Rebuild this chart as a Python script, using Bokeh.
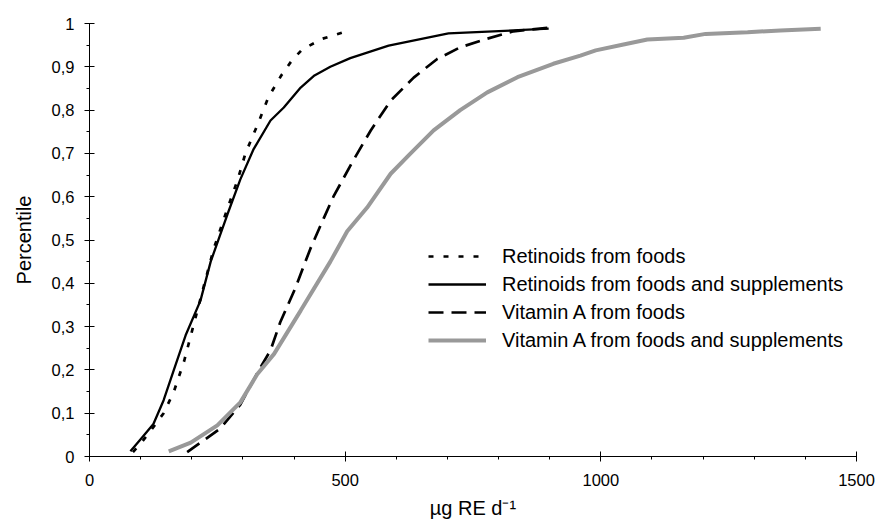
from bokeh.plotting import figure
from bokeh.models import (Range1d, Legend, LegendItem, FixedTicker,
                          CustomJSTickFormatter)
from bokeh.embed import file_html
from bokeh.resources import INLINE

# Cumulative distributions of intake (µg RE per day) vs percentile
ret_food_x = [85, 100, 120, 145, 165, 185, 205, 225, 243, 269, 290, 305, 330, 350, 375, 396, 416, 456, 497]
ret_food_y = [0.01, 0.03, 0.06, 0.10, 0.15, 0.22, 0.31, 0.40, 0.48, 0.57, 0.64, 0.70, 0.77, 0.83, 0.88, 0.915, 0.94, 0.965, 0.98]

ret_supp_x = [80, 100, 125, 145, 165, 188, 217, 237, 255, 270, 295, 321, 354, 380, 413, 440, 471, 510, 585, 702, 898]
ret_supp_y = [0.012, 0.04, 0.075, 0.13, 0.2, 0.28, 0.36, 0.45, 0.51, 0.56, 0.64, 0.71, 0.776, 0.806, 0.852, 0.88, 0.90, 0.92, 0.949, 0.977, 0.988]

vita_food_x = [191, 223, 256, 295, 334, 354, 373, 403, 419, 432, 458, 477, 514, 550, 589, 634, 680, 725, 778, 829, 898]
vita_food_y = [0.01, 0.037, 0.065, 0.12, 0.205, 0.245, 0.31, 0.39, 0.44, 0.48, 0.55, 0.60, 0.68, 0.753, 0.822, 0.875, 0.918, 0.945, 0.965, 0.982, 0.99]

vita_supp_x = [155, 198, 250, 295, 328, 361, 413, 471, 504, 543, 589, 628, 673, 725, 778, 837, 907, 960, 990, 1042, 1091, 1162, 1205, 1287, 1351, 1430]
vita_supp_y = [0.012, 0.032, 0.072, 0.125, 0.19, 0.237, 0.337, 0.45, 0.52, 0.575, 0.653, 0.70, 0.753, 0.80, 0.841, 0.876, 0.907, 0.926, 0.938, 0.951, 0.963, 0.967, 0.976, 0.98, 0.984, 0.988]

series_names = ["Retinoids from foods",
                "Retinoids from foods and supplements",
                "Vitamin A from foods",
                "Vitamin A from foods and supplements"]

x_ticks = [0, 500, 1000, 1500]
y_ticks = [0, 0.1, 0.2, 0.3, 0.4, 0.5, 0.6, 0.7, 0.8, 0.9, 1.0]

FONT = "Liberation Sans"

p = figure(width=875, height=524, output_backend="svg", toolbar_location=None,
           x_range=Range1d(0, 1500), y_range=Range1d(0, 1))
p.min_border_left = 89
p.min_border_right = 19
p.min_border_top = 23
p.min_border_bottom = 68
p.outline_line_color = None
p.xgrid.visible = False
p.ygrid.visible = False
p.background_fill_color = "white"
p.border_fill_color = "white"

r1 = p.line(ret_food_x, ret_food_y, line_color="black", line_width=2.7, line_dash="5 10")
r2 = p.line(ret_supp_x, ret_supp_y, line_color="black", line_width=2.3)
r3 = p.line(vita_food_x, vita_food_y, line_color="black", line_width=2.7, line_dash="15 8")
r4 = p.line(vita_supp_x, vita_supp_y, line_color="#999999", line_width=4)

# axes
for ax in (p.xaxis[0], p.yaxis[0]):
    ax.axis_line_color = "black"
    ax.major_tick_line_color = "black"
    ax.minor_tick_line_color = "black"
    ax.major_label_text_font = FONT
    ax.major_label_text_font_size = "16.5px"
    ax.major_label_text_color = "black"
    ax.axis_label_text_font = FONT
    ax.axis_label_text_font_style = "normal"
    ax.axis_label_text_font_size = "20px"
    ax.axis_label_text_color = "black"
    ax.major_tick_in = 5
    ax.major_tick_out = 5
    ax.minor_tick_in = 0
    ax.minor_tick_out = 3

p.xaxis.ticker = FixedTicker(ticks=x_ticks, minor_ticks=list(range(0, 1501, 100)))
p.yaxis.ticker = FixedTicker(ticks=y_ticks, minor_ticks=[i * 0.05 for i in range(21)])
p.xaxis.major_label_standoff = 12
p.yaxis.major_label_standoff = 10
p.yaxis.formatter = CustomJSTickFormatter(code="""
    if (Math.abs(tick - Math.round(tick)) < 1e-9) return Math.round(tick).toString();
    return tick.toFixed(1).replace('.', ',');
""")
p.yaxis.axis_label = "Percentile"
p.yaxis.axis_label_standoff = 14
p.xaxis.axis_label = "µg RE d⁻¹"
p.xaxis.axis_label_standoff = 8

legend = Legend(items=[LegendItem(label=n, renderers=[r]) for n, r in zip(series_names, [r1, r2, r3, r4])],
                location=(339, 102))
legend.margin = 0
legend.padding = 0
legend.spacing = 0
legend.glyph_width = 58
legend.glyph_height = 28
legend.label_height = 28
legend.label_standoff = 16
legend.label_text_font = FONT
legend.label_text_font_size = "20px"
legend.label_text_color = "black"
legend.border_line_alpha = 0
legend.background_fill_alpha = 0
p.add_layout(legend)

open("out.html", "w").write(file_html(p, INLINE))
